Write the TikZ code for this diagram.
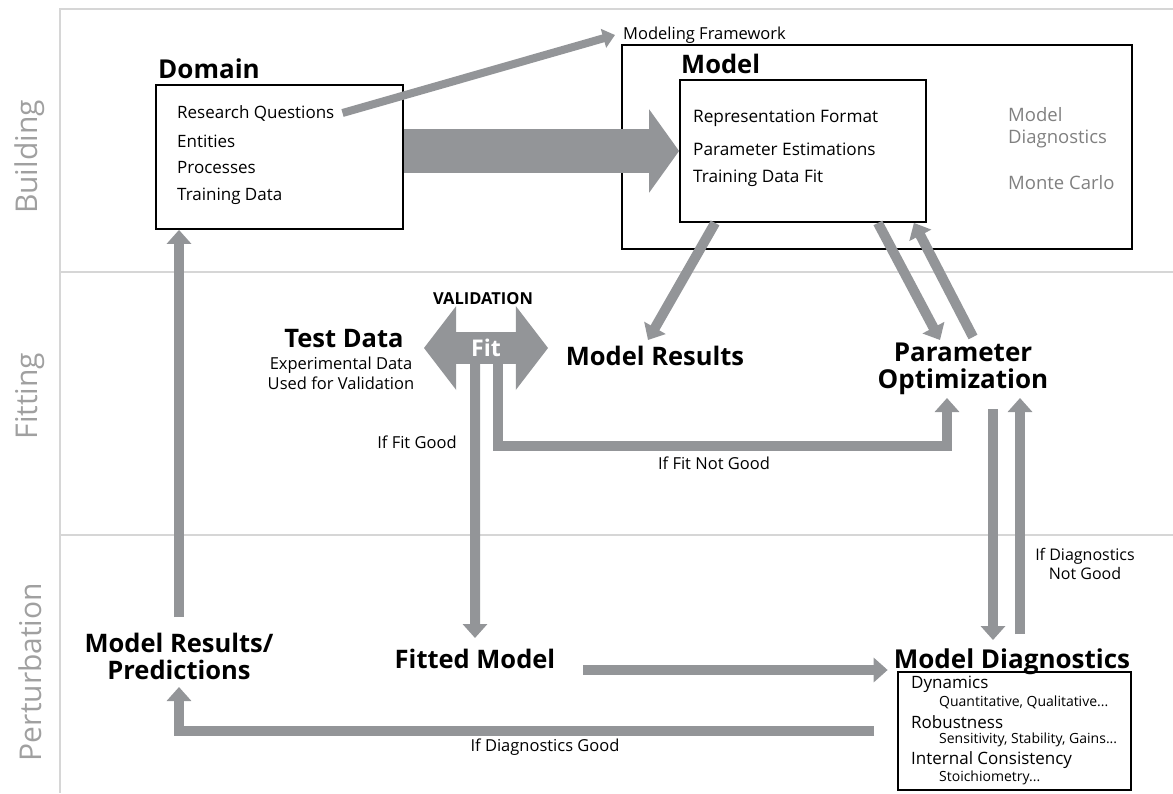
\documentclass[tikz,border=0pt]{standalone}
\usepackage{fontspec}
\setmainfont{Open Sans}
\usetikzlibrary{arrows.meta,shapes.arrows,positioning}

\definecolor{arrowgray}{RGB}{147,149,152}
\definecolor{rulegray}{RGB}{214,214,214}
\definecolor{lanegray}{RGB}{160,160,160}
\definecolor{diaggray}{RGB}{128,128,128}

\tikzset{
  flow/.style={draw=arrowgray, line width=10pt, line join=miter,
    -{Triangle[length=14pt,width=24pt]}},
  thinflow/.style={draw=arrowgray, line width=8pt,
    -{Triangle[length=12pt,width=19pt]}},
  box/.style={draw, line width=1.8pt, inner sep=0pt},
  heading/.style={font=\bfseries\fontsize{25.5}{27}\selectfont, inner sep=0pt,
    align=center},
  item/.style={font=\fontsize{17}{20}\selectfont, anchor=west, inner sep=0pt},
  note/.style={font=\fontsize{16.5}{20}\selectfont, inner sep=0pt, align=center},
  lane/.style={font=\fontsize{30}{34}\selectfont, text=lanegray, rotate=90},
}

\begin{document}
\begin{tikzpicture}[x=1pt, y=-1pt]
\useasboundingbox (0,0) rectangle (1173,793);

% lanes
\begin{scope}[draw=rulegray, line width=2pt]
  \draw (1173,9) -- (60,9) -- (60,793);
  \draw (60,272) -- (1173,272);
  \draw (60,535) -- (1173,535);
\end{scope}
\node[lane] (building) at (30,157) {Building};
\node[lane] (fitting) at (30,396) {Fitting};
\node[lane] (perturb) at (30,672) {Perturbation};

% building
\node[box, minimum width=247pt, minimum height=144pt] (domain) at (279.5,157) {};
\node[heading, font=\bfseries\fontsize{26}{28}\selectfont, anchor=west] (domaintitle)
  at (158,69) {Domain};
\node[item] (rq) at (177,113) {Research Questions};
\node[item] (entities) at (177,141) {Entities};
\node[item] (processes) at (177,168) {Processes};
\node[item] (training) at (177,196) {Training Data};

\node[box, minimum width=510pt, minimum height=204pt] (framebox) at (877,147) {};
\node[item, font=\fontsize{16.5}{18}\selectfont] (framework) at (623,35)
  {Modeling Framework};
\node[heading, anchor=west] (modeltitle) at (681,64) {Model};
\node[box, minimum width=246pt, minimum height=142pt] (inner) at (803,151) {};
\node[item, font=\fontsize{17.2}{20}\selectfont] (repr) at (693,118) {Representation Format};
\node[item, font=\fontsize{17.2}{20}\selectfont] (estim) at (693,149) {Parameter Estimations};
\node[item, font=\fontsize{17.2}{20}\selectfont] (datafit) at (693,178) {Training Data Fit};
\node[item, font=\fontsize{18.5}{22}\selectfont, text=diaggray, align=left]
  (diagnote) at (1008,128) {Model\\Diagnostics};
\node[item, font=\fontsize{18.5}{22}\selectfont, text=diaggray] (monte)
  at (1008,183) {Monte Carlo};

% fitting
\node[heading, anchor=base] (results) at (655,365) {Model Results};
\node[heading, font=\bfseries\fontsize{26}{27}\selectfont, anchor=north] (paramopt)
  at (963,343) {Parameter\\Optimization};
\node[heading, anchor=base] (testdata) at (344,347) {Test Data};
\node[note, font=\fontsize{16.5}{20}\selectfont] (testnote) at (341,373)
  {Experimental Data\\Used for Validation};
\node[font=\bfseries\fontsize{16.5}{18}\selectfont, inner sep=0pt] (validation)
  at (483,299) {VALIDATION};
\node[double arrow, fill=arrowgray, text=white, inner sep=0pt,
  minimum height=124pt, minimum width=84pt, double arrow head extend=15pt,
  double arrow tip angle=105, font=\bfseries\fontsize{23}{25}\selectfont]
  (fit) at (486,348) {Fit};
\node[note] (fitgood) at (417,442) {If Fit Good};
\node[note] (fitbad) at (714,463) {If Fit Not Good};
\node[note, font=\fontsize{16}{19}\selectfont] (diagbad) at (1085,564)
  {If Diagnostics\\Not Good};

% perturbation
\node[heading, anchor=north] (predict) at (179,633) {Model Results/\\Predictions};
\node[heading, anchor=base] (fitted) at (475,668) {Fitted Model};
\node[heading, font=\bfseries\fontsize{26}{28}\selectfont, anchor=base] (diag)
  at (1012,668) {Model Diagnostics};
\node[box, minimum width=233pt, minimum height=118pt] (diagbox) at (1014.5,731) {};
\begin{scope}[every node/.style={item, font=\fontsize{17}{20}\selectfont}]
  \node (dyn) at (911,684) {Dynamics};
  \node (robust) at (911,722) {Robustness};
  \node (consist) at (911,760) {Internal Consistency};
\end{scope}
\begin{scope}[every node/.style={item, font=\fontsize{14}{16}\selectfont}]
  \node (quant) at (939,702) {Quantitative, Qualitative...};
  \node (sens) at (939,740) {Sensitivity, Stability, Gains...};
  \node (stoich) at (939,778) {Stoichiometry...};
\end{scope}
\node[note] (diaggood) at (545,747) {If Diagnostics Good};

% arrows
\draw[arrowgray, line width=44pt, -{Triangle[length=30pt,width=82pt]}]
  (domain.east |- inner.west) -- (inner.west);
\draw[thinflow] ([xshift=8pt]rq.east) -- ([xshift=-8pt]framework.west);

\draw[flow] ([xshift=36pt]inner.south west) -- ([xshift=-7pt,yshift=25pt]results.base);
\draw[flow] ([xshift=-49pt]inner.south east) -- ([xshift=-23pt,yshift=3pt]paramopt.north);
\draw[flow] ([xshift=10pt,yshift=6pt]paramopt.north) -- ([xshift=-13pt]inner.south east);

\draw[flow] ([xshift=-11pt,yshift=1pt]fit.south) -- ([yshift=30pt]fitted.base);
\draw[flow] ([xshift=12pt,yshift=1pt]fit.south) -- ++(0,83)
  -| ([xshift=-16pt,yshift=-55pt]paramopt.north);

\draw[flow] ([xshift=30pt,yshift=-66pt]paramopt.north) -- ([xshift=-19pt,yshift=28pt]diag.base);
\draw[flow] ([xshift=8pt,yshift=34pt]diag.base) -- ([xshift=57pt,yshift=-55pt]paramopt.north);

\draw[flow] ([xshift=28pt,yshift=-2pt]fitted.base east) -- ([xshift=-6pt,yshift=-2pt]diag.base west);
\draw[flow] ([xshift=-23pt]diagbox.west) -| ([yshift=-54pt]predict.north);
\draw[flow] ([yshift=16pt]predict.north) -- (domain.south -| predict.north);
\end{tikzpicture}
\end{document}
